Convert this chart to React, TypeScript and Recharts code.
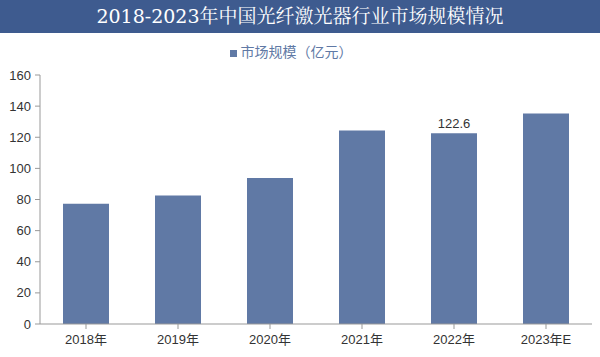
import { BarChart, Bar, XAxis, YAxis, Legend, LabelList } from "recharts";

const years = ["2018年", "2019年", "2020年", "2021年", "2022年", "2023年E"];
const marketSize = [77.3, 82.5, 93.8, 124.3, 122.6, 135.3];
// only the 2022 bar carries a value label in the source
const shownLabels = ["", "", "", "", "122.6", ""];
const yTicks = [0, 20, 40, 60, 80, 100, 120, 140, 160];

const BAR_COLOR = "#6079a5";
const TITLE_BG = "#3e5b8f";
const AXIS_TICK = { fontSize: 13, fill: "#333", fontFamily: "'Liberation Sans', Arial, 'Noto Sans CJK SC', sans-serif" };

const data = years.map((y, i) => ({ year: y, size: marketSize[i], tag: shownLabels[i] }));

export default function App() {
  return (
    <div style={{ position: "absolute", left: 0, top: 0, width: 600, height: 357, background: "#fff", overflow: "hidden" }}>
      <div
        style={{
          height: 33,
          background: TITLE_BG,
          color: "#fff",
          fontSize: 19,
          lineHeight: "33px",
          textAlign: "center",
          fontFamily: "'DejaVu Serif', 'Noto Serif CJK SC', 'Noto Sans CJK SC', serif",
        }}
      >
        2018-2023年中国光纤激光器行业市场规模情况
      </div>
      {/* barCategoryGap applies on both sides of a band, so 25% leaves a bar half the band wide */}
      <BarChart width={600} height={324} data={data} margin={{ top: 22, right: 8, left: 0, bottom: 3 }} barCategoryGap="25%">
        <Legend
          verticalAlign="top"
          align="center"
          iconType="square"
          iconSize={7}
          wrapperStyle={{ top: 8, fontSize: 14, color: "#333", fontFamily: "'Noto Sans CJK SC', sans-serif" }}
        />
        <XAxis
          dataKey="year"
          tick={AXIS_TICK}
          tickLine={{ stroke: "#999" }}
          axisLine={{ stroke: "#999" }}
          tickSize={5}
          tickMargin={6}
          interval={0}
        />
        <YAxis
          domain={[0, 160]}
          ticks={yTicks}
          tick={AXIS_TICK}
          tickLine={{ stroke: "#999" }}
          axisLine={{ stroke: "#999" }}
          tickSize={5}
          tickMargin={4}
          width={40}
        />
        <Bar dataKey="size" name="市场规模（亿元）" fill={BAR_COLOR} isAnimationActive={false}>
          <LabelList dataKey="tag" position="top" fill="#333" fontSize={13} fontFamily="'Liberation Sans', Arial, sans-serif" />
        </Bar>
      </BarChart>
    </div>
  );
}
